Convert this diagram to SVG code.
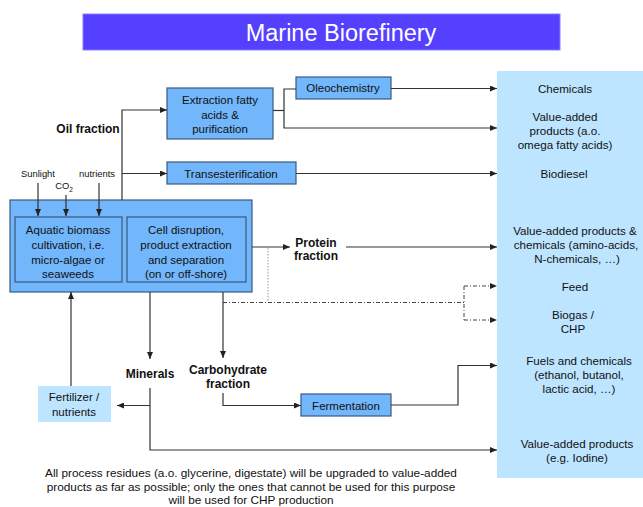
<svg xmlns="http://www.w3.org/2000/svg" width="643" height="507" viewBox="0 0 643 507">
  <defs>
    <marker id="arr" markerWidth="7" markerHeight="6" refX="7" refY="3" orient="auto" markerUnits="userSpaceOnUse">
      <path d="M0,0 L7,3 L0,6 z" fill="#222"/>
    </marker>
    <style>
      text { font-family: "Liberation Sans", Arial, sans-serif; fill: #111; }
      .box { fill: #72b6fb; stroke: #3a5a80; stroke-width: 1.2; }
      .light { fill: #bde5ff; }
      .t { font-size: 11.5px; text-anchor: middle; }
      .p { font-size: 11.6px; text-anchor: middle; }
      .n { font-size: 11.8px; text-anchor: middle; }
      .s { font-size: 9.4px; text-anchor: middle; }
      .b { font-size: 12px; font-weight: bold; text-anchor: middle; }
      .ln { fill: none; stroke: #333; stroke-width: 1.2; }
      .dot { fill: none; stroke: #999; stroke-width: 1; stroke-dasharray: 1.5 1.5; }
      .dd { fill: none; stroke: #444; stroke-width: 1; stroke-dasharray: 4 2 1 2; }
    </style>
  </defs>

  <rect width="643" height="507" fill="#fff"/>

  <!-- title banner -->
  <g id="title">
    <rect x="83" y="14" width="477" height="36" fill="#5540ff" stroke="#8a7dff" stroke-width="1"/>
    <text x="341" y="41" style="font-size:23.5px;fill:#fff;text-anchor:middle">Marine Biorefinery</text>
  </g>

  <!-- product column -->
  <g id="products">
    <rect x="497" y="71" width="146" height="407" class="light"/>
    <text class="p" x="565" y="93">Chemicals</text>
    <text class="p" x="565" y="121">Value-added</text>
    <text class="p" x="565" y="135">products (a.o.</text>
    <text class="p" x="565" y="149">omega fatty acids)</text>
    <text class="p" x="564" y="178">Biodiesel</text>
    <text class="p" x="575" y="235">Value-added products &amp;</text>
    <text class="p" x="576" y="249">chemicals (amino-acids,</text>
    <text class="p" x="577" y="263">N-chemicals, …)</text>
    <text class="p" x="575" y="291">Feed</text>
    <text class="p" x="573" y="319">Biogas /</text>
    <text class="p" x="573" y="333">CHP</text>
    <text class="p" x="579" y="365">Fuels and chemicals</text>
    <text class="p" x="579" y="379">(ethanol, butanol,</text>
    <text class="p" x="579" y="393">lactic acid, …)</text>
    <text class="p" x="577" y="448">Value-added products</text>
    <text class="p" x="577" y="462">(e.g. Iodine)</text>
  </g>

  <!-- main processing unit -->
  <g id="main-unit">
    <rect x="10" y="200" width="242" height="92" class="box"/>
  </g>
  <g id="cultivation">
    <rect x="15" y="217" width="107" height="65" class="box"/>
    <text class="t" x="68" y="234">Aquatic biomass</text>
    <text class="t" x="68" y="249">cultivation, i.e.</text>
    <text class="t" x="68" y="264">micro-algae or</text>
    <text class="t" x="68" y="278">seaweeds</text>
  </g>
  <g id="disruption">
    <rect x="127" y="217" width="119" height="65" class="box"/>
    <text class="t" x="186" y="234">Cell disruption,</text>
    <text class="t" x="186" y="249">product extraction</text>
    <text class="t" x="186" y="264">and separation</text>
    <text class="t" x="186" y="278">(on or off-shore)</text>
  </g>

  <g id="extraction">
    <rect x="167" y="88" width="106" height="51" class="box"/>
    <text class="t" x="220" y="104">Extraction fatty</text>
    <text class="t" x="220" y="119">acids &amp;</text>
    <text class="t" x="220" y="133">purification</text>
  </g>
  <g id="oleochemistry">
    <rect x="296" y="77" width="95" height="22" class="box"/>
    <text class="t" x="343" y="92">Oleochemistry</text>
  </g>
  <g id="transesterification">
    <rect x="167" y="162" width="129" height="22" class="box"/>
    <text class="t" x="231" y="177.5">Transesterification</text>
  </g>
  <g id="fermentation">
    <rect x="301" y="394" width="90" height="22" class="box"/>
    <text class="t" x="346" y="409.5">Fermentation</text>
  </g>
  <g id="fertilizer">
    <rect x="38" y="386" width="73" height="36" class="light"/>
    <text class="t" x="74" y="401">Fertilizer /</text>
    <text class="t" x="74" y="416">nutrients</text>
  </g>

  <!-- inputs and fraction labels -->
  <g id="labels">
    <text class="s" x="38" y="177">Sunlight</text>
    <text class="s" x="97" y="177">nutrients</text>
    <text class="s" x="64" y="189">CO<tspan dy="2.5" style="font-size:6.5px">2</tspan></text>
    <text class="b" x="88" y="133">Oil fraction</text>
    <text class="b" x="316" y="247">Protein</text>
    <text class="b" x="316" y="260">fraction</text>
    <text class="b" x="150" y="378">Minerals</text>
    <text class="b" x="228" y="374">Carbohydrate</text>
    <text class="b" x="228" y="388">fraction</text>
  </g>

  <g id="note">
    <text class="n" x="251" y="477">All process residues (a.o. glycerine, digestate) will be upgraded to value-added</text>
    <text class="n" x="251" y="491">products as far as possible; only the ones that cannot be used for this purpose</text>
    <text class="n" x="251" y="504">will be used for CHP production</text>
  </g>

  <!-- connectors -->
  <g id="connectors">
    <path class="ln" d="M38,183 V216" marker-end="url(#arr)"/>
    <path class="ln" d="M66,195 V216" marker-end="url(#arr)"/>
    <path class="ln" d="M99,183 V216" marker-end="url(#arr)"/>

    <path class="ln" d="M122,200 V110 H167" marker-end="url(#arr)"/>
    <path class="ln" d="M122,173.5 H167" marker-end="url(#arr)"/>

    <path class="ln" d="M273,110.5 H284"/>
    <path class="ln" d="M296,89 H284 V128 H497" marker-end="url(#arr)"/>
    <path class="ln" d="M391,88.5 H497" marker-end="url(#arr)"/>
    <path class="ln" d="M296,173.5 H497" marker-end="url(#arr)"/>

    <path class="ln" d="M252,247 H290" marker-end="url(#arr)"/>
    <path class="ln" d="M346,247 H497" marker-end="url(#arr)"/>
    <path class="dot" d="M268,248 V302"/>

    <path class="dd" d="M223,302.5 H464"/>
    <path class="dd" d="M464,286 V320"/>
    <path class="dd" d="M464,286 H497" marker-end="url(#arr)"/>
    <path class="dd" d="M464,320 H497" marker-end="url(#arr)"/>

    <path class="ln" d="M150,292 V359" marker-end="url(#arr)"/>
    <path class="ln" d="M150,388 V450 H497" marker-end="url(#arr)"/>
    <path class="ln" d="M150,405.5 H117" marker-end="url(#arr)"/>
    <path class="ln" d="M71,386 V292" marker-end="url(#arr)"/>

    <path class="ln" d="M223,292 V358" marker-end="url(#arr)"/>
    <path class="ln" d="M223,393 V405.5 H301" marker-end="url(#arr)"/>
    <path class="ln" d="M391,405 H458 V365.5 H497" marker-end="url(#arr)"/>
  </g>
</svg>
